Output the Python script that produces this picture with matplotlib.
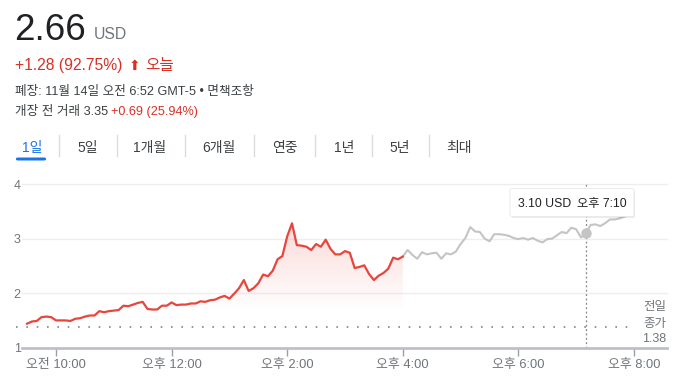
import numpy as np
import matplotlib
matplotlib.use("Agg")
import matplotlib.pyplot as plt
from matplotlib.patches import Polygon, FancyBboxPatch

plt.rcParams['font.family'] = ['Liberation Sans', 'Noto Sans CJK KR', 'DejaVu Sans']

# 정규장 (09:30 ~ 16:00, 5분 간격)
reg_values = [1.44, 1.48, 1.49, 1.56, 1.57, 1.56, 1.50, 1.50, 1.50, 1.49,
              1.53, 1.54, 1.57, 1.59, 1.59, 1.67, 1.65, 1.67, 1.68, 1.69,
              1.77, 1.76, 1.79, 1.82, 1.84, 1.71, 1.70, 1.70, 1.77, 1.77,
              1.83, 1.78, 1.79, 1.79, 1.81, 1.81, 1.85, 1.84, 1.87, 1.88,
              1.92, 1.95, 1.90, 1.99, 2.09, 2.24, 2.04, 2.09, 2.18, 2.34,
              2.31, 2.41, 2.62, 2.68, 3.04, 3.28, 2.88, 2.87, 2.85, 2.79,
              2.90, 2.85, 2.98, 2.81, 2.71, 2.71, 2.77, 2.74, 2.46, 2.48,
              2.51, 2.35, 2.24, 2.32, 2.37, 2.45, 2.65, 2.62, 2.67]
# 시간외 거래 (16:00 ~ 19:55, 5분 간격)
ext_values = [2.67, 2.79, 2.70, 2.63, 2.75, 2.71, 2.73, 2.74, 2.63, 2.73,
              2.71, 2.76, 2.90, 3.01, 3.21, 3.13, 3.12, 3.00, 2.95, 3.08,
              3.08, 3.07, 3.05, 3.01, 2.99, 3.01, 2.98, 3.01, 2.96, 2.93,
              2.99, 3.00, 3.06, 3.12, 3.10, 3.20, 3.17, 3.02, 3.10, 3.25,
              3.26, 3.23, 3.28, 3.35, 3.35, 3.37, 3.40, 3.43]
prev_close = 1.38
hover_time = 19 + 10 / 60
hover_value = 3.10

reg_times = 9.5 + np.arange(len(reg_values)) * 5 / 60
ext_times = 16 + np.arange(len(ext_values)) * 5 / 60

tick_hours = [10, 12, 14, 16, 18, 20]
tick_labels = ["오전 10:00", "오후 12:00", "오후 2:00", "오후 4:00", "오후 6:00", "오후 8:00"]
tabs = ["1일", "5일", "1개월", "6개월", "연중", "1년", "5년", "최대"]

W, H = 685, 382
fig = plt.figure(figsize=(W / 100, H / 100), dpi=100)


def fx(px):
    return px / W


def fy(py):
    return 1 - py / H


RED = "#e8453c"
TXT_RED = "#d93025"
GRAY = "#70757a"
DARK = "#202124"

# 헤더
fig.text(fx(14), fy(40), "2.66", fontsize=26.5, color=DARK, va="baseline")
fig.text(fx(94), fy(39), "USD", fontsize=11.3, color=GRAY, va="baseline")
fig.text(fx(15), fy(70), "+1.28 (92.75%)", fontsize=11.3, color=TXT_RED, va="baseline")
fig.text(fx(129), fy(70), "⬆", fontsize=10, color=TXT_RED, va="baseline",
         family=["DejaVu Sans"])
fig.text(fx(145), fy(70), "오늘", fontsize=11.3, color=TXT_RED, va="baseline")
fig.text(fx(15), fy(95), "폐장: 11월 14일 오전 6:52 GMT-5 • 면책조항", fontsize=9.1,
         color="#3c4043", va="baseline")
fig.text(fx(15), fy(115), "개장 전 거래 3.35", fontsize=9.1, color="#3c4043", va="baseline")
fig.text(fx(111), fy(115), "+0.69 (25.94%)", fontsize=9.1, color=TXT_RED, va="baseline")

# 탭
tab_x = [32, 88, 150, 219, 285, 344, 400, 459]
sep_x = [59, 117, 185, 254, 315, 372, 429]
for x, t in zip(tab_x, tabs):
    fig.text(fx(x), fy(152), t, fontsize=10, ha="center", va="baseline",
             color="#1a73e8" if t == "1일" else "#3c4043")
for x in sep_x:
    fig.add_artist(plt.Line2D([fx(x), fx(x)], [fy(135), fy(156)], color="#dadce0", lw=1))
fig.add_artist(FancyBboxPatch((fx(16), fy(160.5)), fx(30), 3 / H,
                              boxstyle="round,pad=0,rounding_size=0.003",
                              facecolor="#1a73e8", edgecolor="none"))

# 차트
ax = fig.add_axes([fx(22), fy(347.7), fx(645), (347.7 - 184) / H])
ax.set_xlim(9.412, 20.571)
ax.set_ylim(1, 4)

for g in [2, 3, 4]:
    ax.axhline(g, color="#eeeeee", lw=1, zorder=0, clip_on=False)

# 그라데이션 채우기
grad_top, grad_bot = max(reg_values), 1.65
verts = [(reg_times[0], 1.0)] + list(zip(reg_times, reg_values)) + [(reg_times[-1], 1.0)]
patch = Polygon(verts, closed=True, facecolor="none", edgecolor="none")
ax.add_patch(patch)
ys = np.linspace(grad_top, grad_bot, 200)
alpha = np.clip((ys - grad_bot) / (grad_top - grad_bot), 0, 1) * 0.2
rgba = np.zeros((200, 1, 4))
rgba[:, 0, :3] = matplotlib.colors.to_rgb(RED)
rgba[:, 0, 3] = alpha
im = ax.imshow(rgba, extent=[reg_times[0], reg_times[-1], grad_bot, grad_top],
               aspect="auto", origin="upper", zorder=1)
im.set_clip_path(patch)

ax.plot(ext_times, ext_values, color="#c4c4c4", lw=1.5, zorder=2)
ax.plot(reg_times, reg_values, color=RED, lw=1.6, zorder=3)

ax.plot([9.308, 19.93], [prev_close, prev_close], color="#80868b",
        lw=1.2, ls=(0, (1, 5.2)), clip_on=False, zorder=2)
ax.plot([hover_time, hover_time], [1, 4], color="#80868b", lw=0.9,
        ls=(0, (1.5, 2)), zorder=2)
ax.plot(hover_time, hover_value, "o", color="#c4c4c4", ms=6.5, zorder=4)

ax.set_xticks(tick_hours)
ax.set_xticklabels(tick_labels)
ax.set_yticks([1, 2, 3, 4])
ax.set_yticklabels(["1", "2", "3", "4"])
ax.tick_params(axis="x", length=6, width=1, color="#9aa0a6", pad=2,
               labelsize=9.3, labelcolor=GRAY)
ax.tick_params(axis="y", length=0, pad=1, labelsize=9, labelcolor=GRAY)
for s in ["top", "right", "left"]:
    ax.spines[s].set_visible(False)
ax.spines["bottom"].set_color("#bdc1c6")
ax.spines["bottom"].set_linewidth(2)
ax.patch.set_alpha(0)

# 전일 종가 라벨
for py, t in [(310, "전일"), (326.5, "종가"), (342.5, "1.38")]:
    fig.text(fx(666), fy(py), t, fontsize=9, color=GRAY, ha="right", va="baseline")

# 툴팁
fig.add_artist(FancyBboxPatch((fx(511), fy(218)), fx(124), 28 / H,
                              boxstyle="round,pad=0,rounding_size=0.004",
                              facecolor="#000000", alpha=0.08, edgecolor="none"))
fig.add_artist(FancyBboxPatch((fx(510), fy(216.5)), fx(124), 28 / H,
                              boxstyle="round,pad=0,rounding_size=0.004",
                              facecolor="white", edgecolor="#e8e8e8", lw=0.6))
fig.text(fx(518), fy(207), "3.10 USD", fontsize=8.8, color=DARK, va="baseline")
fig.text(fx(577), fy(207), "오후 7:10", fontsize=8.8, color=DARK, va="baseline")

fig.savefig("out.png", dpi=100)
